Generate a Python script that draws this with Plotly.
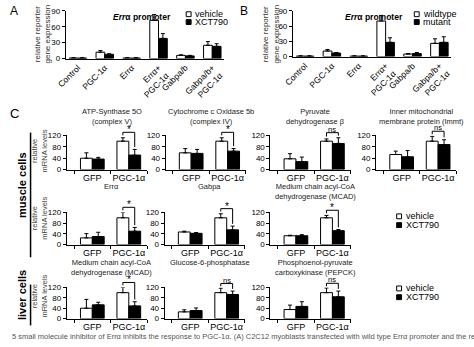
import plotly.graph_objects as go

W, H = 474, 347
FONT = "Liberation Sans, Arial, sans-serif"

# ---------------- data ----------------
reporter_categories = ["Control", "PGC-1α", "Errα", "Errα+<br>PGC-1α", "Gabpa/b", "Gabpa/b+<br>PGC-1α"]
a_vehicle = [1, 12, 1, 72, 6, 25]
a_vehicle_err = [0.5, 3, 0.5, 11, 1, 7]
a_xct790 = [1, 8, 1, 38, 5, 23]
a_xct790_err = [0.5, 1, 0.5, 9, 1, 5]
b_wildtype = [1, 11, 1, 70, 5, 26]
b_wildtype_err = [0.5, 3, 0.5, 11, 1, 9]
b_mutant = [1, 7, 1, 28, 6, 28]
b_mutant_err = [0.5, 1, 0.5, 9, 2, 11]
reporter_ticks = [0, 30, 60, 90]

infection_groups = ["GFP", "PGC-1α"]
mrna_ticks = [0, 40, 80, 120]

muscle_genes = ["ATP-Synthase 5O<br>(complex V)", "Cytochrome c Oxidase 5b<br>(complex IV)",
                "Pyruvate<br>dehydrogenase β", "Inner mitochondrial<br>membrane protein (Immt)",
                "Errα", "Gabpa", "Medium chain acyl-CoA<br>dehydrogenase (MCAD)"]
muscle_vehicle = [[40, 100], [59, 100], [38, 100], [53, 100], [25, 100], [47, 100], [33, 100]]
muscle_vehicle_err = [[19, 12], [15, 12], [18, 8], [12, 17], [16, 20], [3, 15], [2, 9]]
muscle_xct790 = [[37, 51], [57, 65], [28, 92], [45, 88], [30, 50], [42, 55], [33, 52]]
muscle_xct790_err = [[6, 20], [14, 9], [16, 20], [22, 17], [16, 14], [3, 14], [4, 4]]
muscle_sig = ["*", "*", "ns", "ns", "*", "*", "*"]

liver_genes = ["Medium chain acyl-CoA<br>dehydrogenase (MCAD)", "Glucose-6-phosphatase",
               "Phosphoenol-pyruvate<br>carboxykinase (PEPCK)"]
liver_vehicle = [[40, 100], [26, 100], [35, 100]]
liver_vehicle_err = [[34, 20], [8, 17], [17, 18]]
liver_xct790 = [[53, 49], [31, 93], [47, 84]]
liver_xct790_err = [[10, 16], [10, 13], [18, 22]]
liver_sig = ["*", "ns", "ns"]

# ---------------- helpers ----------------
def fx(px):
    return px / W


def fy(py):
    return 1 - py / H


BARGAP = 0.35
fig = go.Figure()
layout = dict(
    width=W, height=H, margin=dict(l=0, r=0, t=0, b=0),
    paper_bgcolor="white", plot_bgcolor="white", showlegend=False,
    barmode="group", bargap=BARGAP, bargroupgap=0,
    font=dict(family=FONT, size=8, color="black"),
)
annotations = []
shapes = []


def add_pair(ax_id, cats, v1, e1, v2, e2):
    xa = "x" if ax_id == 1 else f"x{ax_id}"
    ya = "y" if ax_id == 1 else f"y{ax_id}"
    for vals, errs, fill in ((v1, e1, "white"), (v2, e2, "black")):
        fig.add_trace(go.Bar(
            x=cats, y=vals, xaxis=xa, yaxis=ya, cliponaxis=False,
            marker=dict(color=fill, line=dict(color="black", width=1)),
            error_y=dict(type="data", symmetric=False, array=errs,
                         arrayminus=[0] * len(errs), color="black",
                         thickness=1, width=2),
        ))


def style_axes(ax_id, xdom, ydom, xrange, yrange, ticks, xticks="", tickangle=0,
               tickson="labels", xfont=9):
    xk = "xaxis" if ax_id == 1 else f"xaxis{ax_id}"
    yk = "yaxis" if ax_id == 1 else f"yaxis{ax_id}"
    ya = "y" if ax_id == 1 else f"y{ax_id}"
    xa = "x" if ax_id == 1 else f"x{ax_id}"
    layout[xk] = dict(domain=xdom, anchor=ya, type="category", range=xrange,
                      showline=True, linecolor="black", linewidth=1, showgrid=False,
                      zeroline=False, ticks=xticks, ticklen=3, tickcolor="black",
                      tickson=tickson, tickangle=tickangle,
                      tickfont=dict(size=xfont, family=FONT))
    layout[yk] = dict(domain=ydom, anchor=xa, range=yrange, tickvals=ticks,
                      showline=True, linecolor="black", linewidth=1, showgrid=False,
                      zeroline=False, ticks="outside", ticklen=3, tickcolor="black",
                      tickfont=dict(size=8, family=FONT))


def text(x, y, s, size=9, **kw):
    d = dict(x=fx(x), y=fy(y), xref="paper", yref="paper", text=s, showarrow=False,
             xanchor="center", yanchor="middle",
             font=dict(size=size, family=FONT, color=kw.pop("color", "black")))
    d.update(kw)
    annotations.append(d)


def legend_box(x, y, label, fill):
    shapes.append(dict(type="rect", xref="paper", yref="paper",
                       x0=fx(x), x1=fx(x + 5), y0=fy(y + 2.5), y1=fy(y - 2.5),
                       line=dict(color="black", width=1), fillcolor=fill))
    text(x + 7, y, label, size=9, xanchor="left")


def bracket(ax_id, xrange, yrange, v1, e1, v2, e2, sig):
    # significance bracket over the PGC-1α pair, placed in axis-domain units
    xr = ("x" if ax_id == 1 else f"x{ax_id}") + " domain"
    yr = ("y" if ax_id == 1 else f"y{ax_id}") + " domain"
    half = (1 - BARGAP) / 4
    span = xrange[1] - xrange[0]
    xl = (1 - half - xrange[0]) / span
    xrr = (1 + half - xrange[0]) / span
    top1 = (v1[1] + e1[1]) / yrange[1]
    top2 = (v2[1] + e2[1]) / yrange[1]
    ytop = max(top1, top2) + (0.16 if sig == "*" else 0.15)
    yl = min(ytop - 0.09, top1 + 0.07)
    yrb = min(ytop - 0.09, top2 + 0.07)
    ln = dict(color="black", width=1)
    shapes.append(dict(type="line", xref=xr, yref=yr, x0=xl, x1=xrr, y0=ytop, y1=ytop, line=ln))
    shapes.append(dict(type="line", xref=xr, yref=yr, x0=xl, x1=xl, y0=ytop, y1=yl, line=ln))
    shapes.append(dict(type="line", xref=xr, yref=yr, x0=xrr, x1=xrr, y0=ytop, y1=yrb, line=ln))
    annotations.append(dict(x=(xl + xrr) / 2, y=ytop, xref=xr, yref=yr,
                            text=sig, showarrow=False, xanchor="center", yanchor="bottom",
                            yshift=-5 if sig == "*" else -3,
                            font=dict(size=10 if sig == "*" else 7.5, family=FONT)))


# ---------------- panels A and B ----------------
rep_range = [-0.45, 5.45]
add_pair(1, reporter_categories, a_vehicle, a_vehicle_err, a_xct790, a_xct790_err)
style_axes(1, [fx(57), fx(219)], [fy(56), fy(7)], rep_range, [0, 90], reporter_ticks,
           tickangle=-45, xfont=8.5)
add_pair(2, reporter_categories, b_wildtype, b_wildtype_err, b_mutant, b_mutant_err)
style_axes(2, [fx(289), fx(451)], [fy(54), fy(7)], rep_range, [0, 90], reporter_ticks,
           tickangle=-45, xfont=8.5)

text(4, 7, "A", size=12)
text(239, 7, "B", size=12)
text(135, 13, "<b><i>Err</i>α promoter</b>", size=8.5)
text(372, 13, "<b><i>Err</i>α promoter</b>", size=8.5)
text(33, 31, "relative reporter<br>gene expression", size=8, textangle=-90, color="#333")
text(266, 31, "relative reporter<br>gene expression", size=8, textangle=-90, color="#333")
legend_box(180, 10.5, "vehicle", "white")
legend_box(180, 18.5, "XCT790", "black")
legend_box(413, 10.5, "wildtype", "white")
legend_box(413, 18.5, "mutant", "black")

# ---------------- panel C ----------------
mrna_xrange = [-0.7, 1.5]
mrna_yrange = [0, 120]
row_rects = [(135, 170), (214, 247), (291, 323)]
col_x = [[58, 159, 266, 374], [58, 158, 266], [58, 158, 266]]
title_top = [104, 181, 259]
ytitle_mid = [151, 220, 300]
AXW = 82

panels = []
for k in range(7):
    row = 0 if k < 4 else 1
    col = k if k < 4 else k - 4
    panels.append((row, col, muscle_genes[k], muscle_vehicle[k], muscle_vehicle_err[k],
                   muscle_xct790[k], muscle_xct790_err[k], muscle_sig[k]))
for k in range(3):
    panels.append((2, k, liver_genes[k], liver_vehicle[k], liver_vehicle_err[k],
                   liver_xct790[k], liver_xct790_err[k], liver_sig[k]))

ax_id = 3
for row, col, title, v1, e1, v2, e2, sig in panels:
    x0 = col_x[row][col]
    ytop_px, ybot_px = row_rects[row]
    add_pair(ax_id, infection_groups, v1, e1, v2, e2)
    style_axes(ax_id, [fx(x0), fx(x0 + AXW)], [fy(ybot_px), fy(ytop_px)],
               mrna_xrange, mrna_yrange, mrna_ticks, xticks="outside", tickson="boundaries")
    bracket(ax_id, mrna_xrange, mrna_yrange, v1, e1, v2, e2, sig)
    text(x0 + 46, title_top[row], title, size=7.5, yanchor="top", color="#222")
    ax_id += 1

for r in range(3):
    text(30, ytitle_mid[r], "relative<br>mRNA levels", size=7.5, textangle=-90, color="#444")

text(5, 112, "C", size=13)
text(12, 186, "<b>muscle cells</b>", size=11, textangle=-90)
text(12, 299, "<b>liver cells</b>", size=11, textangle=-90)
shapes.append(dict(type="line", xref="paper", yref="paper", x0=fx(21), x1=fx(21),
                   y0=fy(132), y1=fy(260), line=dict(color="black", width=1.5)))
shapes.append(dict(type="line", xref="paper", yref="paper", x0=fx(21), x1=fx(21),
                   y0=fy(288), y1=fy(330), line=dict(color="black", width=1.5)))

legend_box(395, 218, "vehicle", "white")
legend_box(395, 227, "XCT790", "black")
legend_box(395, 292, "vehicle", "white")
legend_box(395, 301, "XCT790", "black")

text(0, 341, "5 small molecule inhibitor of Errα inhibits the response to PGC-1α. (A) C2C12 myoblasts "
     "transfected with wild type Errα promoter and the reporter", size=7.5,
     xanchor="left", color="#555")

layout["annotations"] = annotations
layout["shapes"] = shapes
fig.update_layout(**layout)
fig.write_html("out.html")
